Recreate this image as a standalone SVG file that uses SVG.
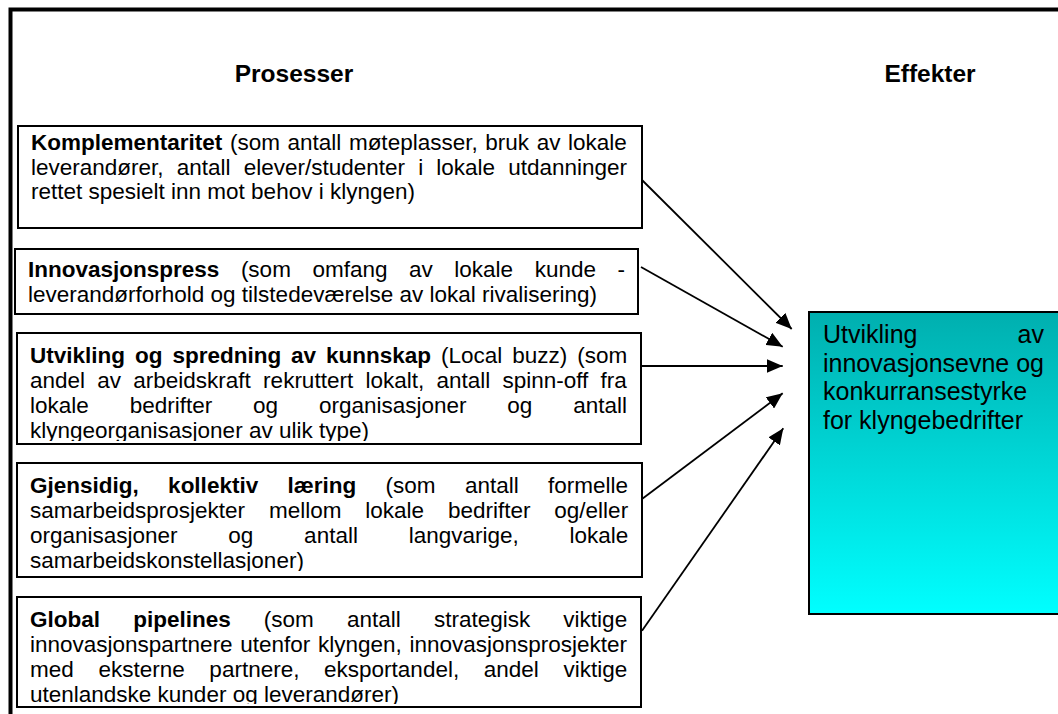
<svg xmlns="http://www.w3.org/2000/svg" width="1058" height="714" viewBox="0 0 1058 714">
<style>
.box{fill:#fff;stroke:#000;stroke-width:2}
.t{font-family:"Liberation Sans",Arial,sans-serif;font-size:22.5px;fill:#000}
.b{font-weight:bold}
.h{font-family:"Liberation Sans",Arial,sans-serif;font-size:24.5px;font-weight:bold;fill:#000}
.e{font-family:"Liberation Sans",Arial,sans-serif;font-size:25px;fill:#000}
.conn{stroke:#000;stroke-width:1.8;fill:none;marker-end:url(#ah)}
</style>
<defs>
<marker id="ah" markerUnits="userSpaceOnUse" markerWidth="17" markerHeight="14" refX="16" refY="7" orient="auto">
<path d="M0,0 L16,7 L0,14 z" fill="#000"/>
</marker>
<linearGradient id="teal" x1="0" y1="0" x2="0" y2="1">
<stop offset="0" stop-color="#00AFAF"/>
<stop offset="1" stop-color="#00FFFF"/>
</linearGradient>
<clipPath id="c1"><rect x="18" y="126" width="624" height="99"/></clipPath>
<clipPath id="c2"><rect x="15" y="249" width="623" height="62"/></clipPath>
<clipPath id="c3"><rect x="17" y="333" width="624" height="108"/></clipPath>
<clipPath id="c4"><rect x="17" y="463" width="625" height="108"/></clipPath>
<clipPath id="c5"><rect x="17" y="597" width="624" height="107"/></clipPath>
</defs>
<rect x="10.5" y="9.5" width="1100" height="800" fill="#fff" stroke="#000" stroke-width="4"/>
<g id="headers">
<text class="h" x="294" y="82" text-anchor="middle">Prosesser</text>
<text class="h" x="930" y="82" text-anchor="middle">Effekter</text>
</g>
<g id="n1">
<rect class="box" x="18" y="126" width="624" height="102"/>
<g clip-path="url(#c1)">
<text class="t" x="31" y="150" style="word-spacing:1.35px"><tspan class="b">Komplementaritet</tspan> (som antall møteplasser, bruk av lokale</text>
<text class="t" x="31" y="174.5" style="word-spacing:6.9px">leverandører, antall elever/studenter i lokale utdanninger</text>
<text class="t" x="31" y="199">rettet spesielt inn mot behov i klyngen)</text>
</g>
</g>
<g id="n2">
<rect class="box" x="15" y="249" width="623" height="65"/>
<g clip-path="url(#c2)">
<text class="t" x="28" y="277" style="word-spacing:15.3px"><tspan class="b">Innovasjonspress</tspan> (som omfang av lokale kunde -</text>
<text class="t" x="28" y="302">leverandørforhold og tilstedeværelse av lokal rivalisering)</text>
</g>
</g>
<g id="n3">
<rect class="box" x="17" y="333" width="624" height="111"/>
<g clip-path="url(#c3)">
<text class="t" x="30" y="363" style="word-spacing:3.7px"><tspan class="b">Utvikling og spredning av kunnskap</tspan> (Local buzz) (som</text>
<text class="t" x="30" y="388" style="word-spacing:6px">andel av arbeidskraft rekruttert lokalt, antall spinn-off fra</text>
<text class="t" x="30" y="413" style="word-spacing:34.6px">lokale bedrifter og organisasjoner og antall</text>
<text class="t" x="30" y="438">klyngeorganisasjoner av ulik type)</text>
</g>
</g>
<g id="n4">
<rect class="box" x="17" y="463" width="625" height="114"/>
<g clip-path="url(#c4)">
<text class="t" x="30" y="493" style="word-spacing:23.1px"><tspan class="b">Gjensidig, kollektiv læring</tspan> (som antall formelle</text>
<text class="t" x="30" y="518" style="word-spacing:17.6px">samarbeidsprosjekter mellom lokale bedrifter og/eller</text>
<text class="t" x="30" y="543" style="word-spacing:44.5px">organisasjoner og antall langvarige, lokale</text>
<text class="t" x="30" y="568">samarbeidskonstellasjoner)</text>
</g>
</g>
<g id="n5">
<rect class="box" x="17" y="597" width="624" height="110"/>
<g clip-path="url(#c5)">
<text class="t" x="30" y="627" style="word-spacing:26.9px"><tspan class="b">Global pipelines</tspan> (som antall strategisk viktige</text>
<text class="t" x="30" y="652" style="word-spacing:1.4px">innovasjonspartnere utenfor klyngen, innovasjonsprosjekter</text>
<text class="t" x="30" y="677" style="word-spacing:18.4px">med eksterne partnere, eksportandel, andel viktige</text>
<text class="t" x="30" y="702">utenlandske kunder og leverandører)</text>
</g>
</g>
<g id="effekt">
<rect x="809" y="312" width="300" height="302" fill="url(#teal)" stroke="#000" stroke-width="2"/>
<text class="e" x="823" y="343">Utvikling</text>
<text class="e" x="1044" y="343" text-anchor="end">av</text>
<text class="e" x="823" y="371.5">innovasjonsevne og</text>
<text class="e" x="823" y="400">konkurransestyrke</text>
<text class="e" x="823" y="428.5">for klyngebedrifter</text>
</g>
<g id="connectors">
<line class="conn" x1="642" y1="180" x2="791.7" y2="329"/>
<line class="conn" x1="641" y1="267" x2="782.7" y2="346.7"/>
<line class="conn" x1="641" y1="366" x2="782.7" y2="366"/>
<line class="conn" x1="642" y1="499" x2="782.7" y2="393.3"/>
<line class="conn" x1="642" y1="630.7" x2="783.3" y2="428.3"/>
</g>
</svg>
